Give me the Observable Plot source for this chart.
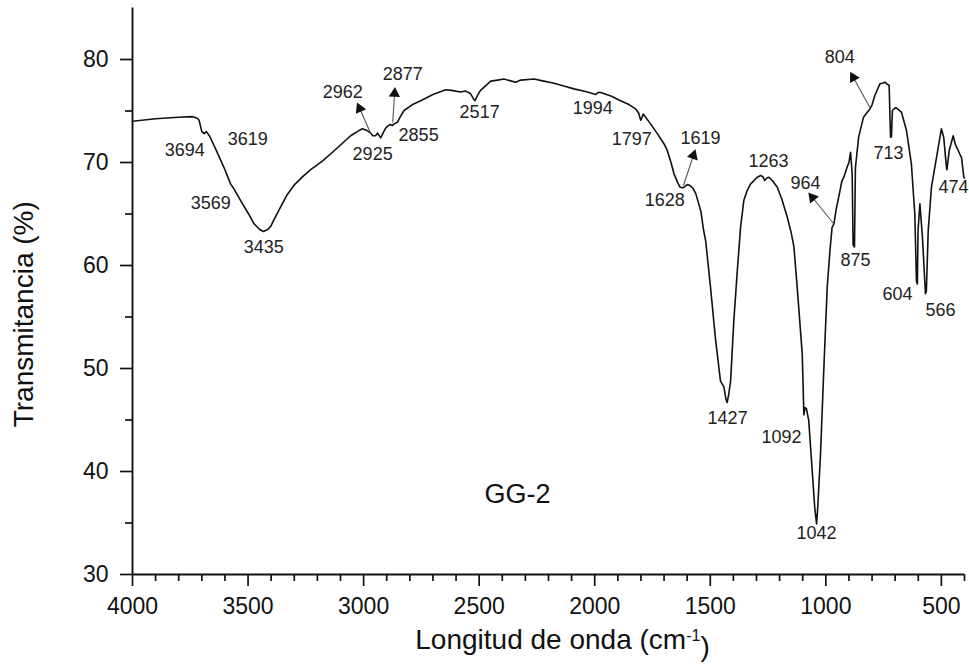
<!DOCTYPE html>
<html><head><meta charset="utf-8">
<script src="https://cdn.jsdelivr.net/npm/d3@7"></script>
<script src="https://cdn.jsdelivr.net/npm/@observablehq/plot@0.6"></script>
<style>body{margin:0;background:#fff}</style>
</head><body><div id="chart"></div>
<script>
// Spectrum (wavenumber in cm^-1, transmittance in %)
const wavenumber = [4000,3900,3800,3740,3720,3712,3700,3690,3680,3665,3640,3618,3600,3575,3560,3532,3500,3474,3450,3433,3415,3402,3380,3359,3330,3301,3260,3229,3180,3142,3100,3056,3020,3005,2985,2969,2960,2948,2940,2926,2915,2904,2886,2875,2868,2854,2840,2825,2790,2753,2700,2645,2620,2580,2560,2537,2525,2518,2505,2494,2450,2420,2393,2360,2342,2320,2263,2220,2176,2130,2090,2040,2010,1996,1985,1974,1930,1888,1850,1823,1810,1801,1795,1790,1760,1729,1700,1686,1670,1657,1640,1631,1620,1614,1600,1590,1575,1563,1541,1528,1520,1499,1478,1456,1441,1432,1427,1420,1412,1398,1383,1369,1355,1340,1326,1297,1282,1272,1265,1255,1246,1230,1210,1190,1167,1150,1138,1124,1102,1095,1090,1084,1074,1059,1048,1040,1035,1023,1009,994,982,973,965,955,944,930,922,909,900,893,886,882,876,872,858,837,820,809,800,788,766,755,744,735,726,722,720,716,712,700,695,673,651,630,615,608,604,601,593,588,582,569,565,557,543,521,500,490,478,476,466,449,440,434,420,413,403,400];
const transmittance = [74.0,74.25,74.4,74.45,74.3,74.1,73.0,72.8,73.0,72.5,71.3,70.2,69.3,67.9,67.4,66.3,65.1,64.05,63.5,63.3,63.5,63.8,64.8,65.7,66.9,67.8,68.7,69.3,70.1,70.85,71.7,72.6,73.1,73.27,73.1,72.85,72.6,72.6,72.85,72.4,72.9,73.37,73.7,73.6,73.75,73.9,74.5,75.05,75.6,76.0,76.6,77.06,77.0,76.85,76.95,76.67,76.2,76.0,76.6,77.0,77.9,78.0,78.1,77.9,77.8,78.0,78.1,77.9,77.7,77.4,77.15,76.9,76.7,76.6,76.8,76.8,76.45,76.0,75.6,75.2,74.8,74.1,74.4,74.7,73.8,72.8,71.8,71.17,70.0,68.9,68.0,67.6,67.55,67.6,67.85,67.8,67.5,67.0,65.3,63.3,62.4,57.9,53.0,48.8,48.2,47.0,46.7,47.5,48.8,54.7,59.5,63.7,66.3,67.3,67.9,68.57,68.74,68.6,68.25,68.5,68.57,68.2,67.6,66.4,64.7,63.2,61.8,57.9,51.4,45.5,46.2,46.1,44.95,40.1,36.5,34.9,36.5,41.7,49.8,57.9,61.5,63.7,64.05,65.5,66.66,68.25,68.57,69.5,70.0,71.0,68.9,62.0,61.8,69.5,72.46,74.4,74.9,75.2,75.6,76.5,77.64,77.7,77.8,77.6,77.5,74.0,72.46,72.5,75.05,75.3,75.3,74.9,73.1,69.9,65.0,58.5,58.2,63.4,66.0,64.5,62.75,57.25,57.5,63.4,67.6,70.5,73.27,72.46,69.5,69.3,71.17,72.6,71.8,71.5,70.8,70.5,68.57,68.5];

// Axis ticks
const xTicks = [4000,3500,3000,2500,2000,1500,1000,500];
const xMinorTicks = [3900,3800,3700,3600,3400,3300,3200,3100,2900,2800,2700,2600,2400,2300,2200,2100,1900,1800,1700,1600,1400,1300,1200,1100,900,800,700,600,400];
const yTicks = [30,40,50,60,70,80];
const yMinorTicks = [35,45,55,65,75];

// Peak annotations
const peakLabels = ["3694","3619","3569","3435","2962","2877","2925","2855","2517","1994","1797","1619","1628","1263","964","1427","1092","1042","804","713","875","604","566","474"];
const peakLabelX = [3774,3501,3661,3432,3090,2831,2961,2762,2498,2009,1840,1542,1697,1248,1088,1425,1192,1040,940,729,872,690,504,448];
const peakLabelY = [71.17,72.23,66.02,61.75,76.8,78.54,70.78,72.62,74.85,75.24,72.23,72.33,66.31,70.1,67.96,45.15,43.3,33.98,80.19,70.87,60.49,57.18,55.63,67.57];

// Arrows (from curve to label)
const arrowX1 = [2969,2874,1616,967,807];
const arrowY1 = [72.82,73.88,67.77,64.08,75.24];
const arrowX2 = [3017,2866,1573,1058,881];
const arrowY2 = [75.24,76.7,70.68,66.6,78.25];

const sampleName = ["GG-2"];
const sampleX = [2334];
const sampleY = [37.77];

const W = 969, H = 669, mL = 132, mR = 5, mT = 7.5, mB = 95;
const frameW = W - mL - mR, frameH = H - mT - mB;
const xDomain = [4000, 400], yDomain = [30, 85];
const kx = frameW / (xDomain[1] - xDomain[0]);
const ky = -frameH / (yDomain[1] - yDomain[0]);

const spectrum = wavenumber.map((w, i) => ({w, t: transmittance[i]}));
const peaks = peakLabels.map((s, i) => ({s, x: peakLabelX[i], y: peakLabelY[i]}));
const arrows = arrowX1.map((x1, i) => {
  const sdx = (arrowX2[i] - x1) * kx, sdy = (arrowY2[i] - arrowY1[i]) * ky;
  return {x1, y1: arrowY1[i], x2: arrowX2[i], y2: arrowY2[i], rot: Math.atan2(sdx, -sdy) * 180 / Math.PI};
});
const samples = sampleName.map((s, i) => ({s, x: sampleX[i], y: sampleY[i]}));

const font = "'Liberation Sans', Arial, Helvetica, sans-serif";
const majorLen = 12, minorLen = 7, tickW = 1.7;

const svg = Plot.plot({
  width: W, height: H,
  marginLeft: mL, marginRight: mR, marginTop: mT, marginBottom: mB,
  style: {fontFamily: font, fontSize: "23px", color: "#111", background: "#fff"},
  x: {type: "linear", domain: xDomain},
  y: {domain: yDomain},
  marks: [
    Plot.axisX({ticks: xTicks, tickSize: 0, tickPadding: 23, tickFormat: d => String(d), label: null, fontSize: 23}),
    Plot.axisY({ticks: yTicks, tickSize: 0, tickPadding: 24, tickFormat: d => String(d), label: null, fontSize: 23}),
    // tick marks
    Plot.tickX(xTicks, {x: d => d, insetTop: frameH - majorLen, dy: majorLen, stroke: "#111", strokeWidth: tickW}),
    Plot.tickX(xMinorTicks, {x: d => d, insetTop: frameH - minorLen, dy: minorLen, stroke: "#111", strokeWidth: tickW}),
    Plot.tickY(yTicks, {y: d => d, insetRight: frameW - majorLen, dx: -majorLen, stroke: "#111", strokeWidth: tickW}),
    Plot.tickY(yMinorTicks, {y: d => d, insetRight: frameW - minorLen, dx: -minorLen, stroke: "#111", strokeWidth: tickW}),
    Plot.ruleY([yDomain[0]], {stroke: "#111", strokeWidth: 1.9}),
    Plot.ruleX([xDomain[0]], {stroke: "#111", strokeWidth: 1.9}),
    Plot.line(spectrum, {x: "w", y: "t", stroke: "#111", strokeWidth: 1.6}),
    Plot.link(arrows, {x1: "x1", y1: "y1", x2: "x2", y2: "y2", stroke: "#555", strokeWidth: 1.1}),
    Plot.dot(arrows, {x: "x2", y: "y2", symbol: "triangle", r: 4.2, fill: "#111", stroke: "none", rotate: "rot"}),
    Plot.text(peaks, {x: "x", y: "y", text: "s", fontSize: 18, fill: "#222", textAnchor: "middle", lineAnchor: "middle"}),
    Plot.text(samples, {x: "x", y: "y", text: "s", fontSize: 27, fill: "#111", textAnchor: "middle", lineAnchor: "middle"}),
    Plot.text(["Longitud de onda (cm-1)"], {frameAnchor: "bottom", dx: 14, dy: 66, fontSize: 28, fill: "#111", textAnchor: "middle", lineAnchor: "middle", className: "xtitle"}),
    Plot.text(["Transmitancia (%)"], {frameAnchor: "left", rotate: -90, dx: -108, dy: 23, fontSize: 28, fill: "#111", textAnchor: "middle", lineAnchor: "middle"})
  ]
});

// superscript in x-axis title
const t = d3.select(svg).select("g.xtitle text");
if (!t.empty()) {
  t.text(null);
  t.append("tspan").text("Longitud de onda (cm");
  t.append("tspan").text("-1").attr("dy", "-0.55em").attr("font-size", "16px");
  t.append("tspan").text(")").attr("dy", "0.55em");
}
document.getElementById("chart").appendChild(svg);
</script>
</body></html>
